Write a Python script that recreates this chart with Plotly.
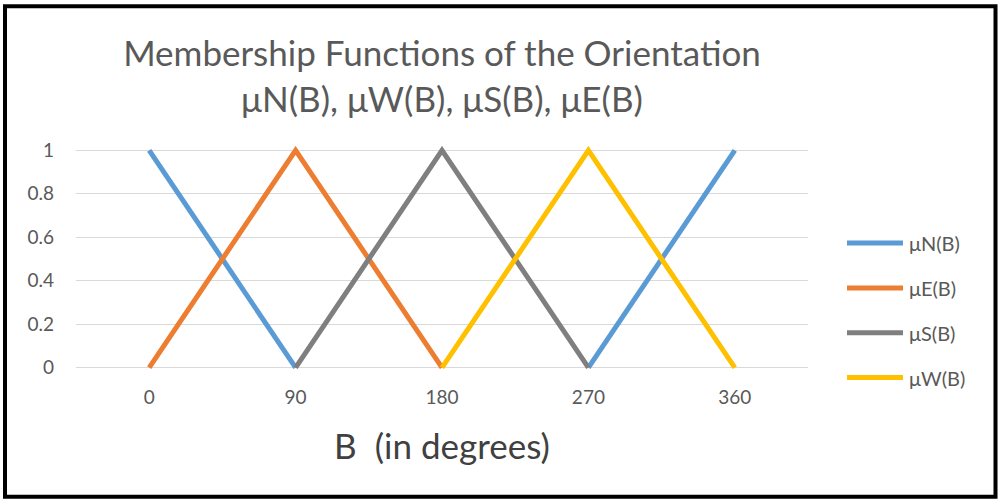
import plotly.graph_objects as go

# Orientation angle B (degrees) and membership degrees of each fuzzy set
angles = [0, 90, 180, 270, 360]
mu_n = [1, 0, None, 0, 1]
mu_e = [0, 1, 0, None, None]
mu_s = [None, 0, 1, 0, None]
mu_w = [None, None, 0, 1, 0]

series_names = ["μN(B)", "μE(B)", "μS(B)", "μW(B)"]
series_values = [mu_n, mu_e, mu_s, mu_w]
series_colors = ["#5B9BD5", "#ED7D31", "#7F7F7F", "#FFC000"]

y_ticks = [0, 0.2, 0.4, 0.6, 0.8, 1]
y_tick_text = ["0", "0.2", "0.4", "0.6", "0.8", "1"]

W, H = 1001, 500
FONT = "Lato, 'Open Sans', sans-serif"
TEXT_GREY = "#595959"

# plot area in pixels
left, right = 76, 808
y_one, y_zero = 150, 368
unit = y_zero - y_one
pad = 0.02
top = y_one - pad * unit
bottom = y_zero + pad * unit

fig = go.Figure()
for name, vals, col in zip(series_names, series_values, series_colors):
    fig.add_trace(go.Scatter(
        x=angles, y=vals, name=name, mode="lines",
        line=dict(color=col, width=5), connectgaps=False,
        showlegend=False, hoverinfo="x+y+name",
    ))


def px_to_paper_x(px):
    return (px - left) / (right - left)


def px_to_paper_y(py):
    return (bottom - py) / (bottom - top)


shapes = []
annotations = []

# legend drawn at the right of the plot
leg_x0, leg_x1, leg_text_x = 847, 903, 907
leg_y0, leg_dy = 243, 45
for i, (name, col) in enumerate(zip(series_names, series_colors)):
    yy = px_to_paper_y(leg_y0 + i * leg_dy)
    shapes.append(dict(type="line", xref="paper", yref="paper",
                       x0=px_to_paper_x(leg_x0), x1=px_to_paper_x(leg_x1),
                       y0=yy, y1=yy, line=dict(color=col, width=5)))
    annotations.append(dict(text=name, xref="paper", yref="paper",
                            x=px_to_paper_x(leg_text_x), y=yy,
                            xanchor="left", yanchor="middle", showarrow=False,
                            font=dict(family=FONT, size=20, color=TEXT_GREY)))

# outer frame around the chart
shapes.append(dict(type="rect", xref="paper", yref="paper",
                   x0=px_to_paper_x(5), x1=px_to_paper_x(995.5),
                   y0=px_to_paper_y(497.5), y1=px_to_paper_y(5.5),
                   line=dict(color="#000000", width=4), layer="above"))

fig.update_layout(
    width=W, height=H,
    margin=dict(l=left, r=W - right, t=top, b=H - bottom, pad=0),
    paper_bgcolor="white", plot_bgcolor="white",
    title=dict(text="Membership Functions of the Orientation<br>μN(B), μW(B), μS(B), μE(B)",
               x=0.5, xref="paper", xanchor="center",
               y=1 - 66 / H, yref="container", yanchor="middle",
               font=dict(family=FONT, size=35, color=TEXT_GREY)),
    xaxis=dict(range=[-45, 405], tickvals=angles, ticktext=[str(a) for a in angles],
               showgrid=False, zeroline=False, showline=False, ticks="",
               ticklabelstandoff=12,
               tickfont=dict(family=FONT, size=19, color=TEXT_GREY),
               title=dict(text="B  (in degrees)", standoff=27,
                          font=dict(family=FONT, size=35, color="#404040"))),
    yaxis=dict(range=[-pad, 1 + pad], tickvals=y_ticks, ticktext=y_tick_text,
               showgrid=True, gridcolor="#D9D9D9", gridwidth=1.3,
               zeroline=False, showline=False, ticks="",
               ticklabelstandoff=21,
               tickfont=dict(family=FONT, size=19, color=TEXT_GREY)),
    shapes=shapes, annotations=annotations, showlegend=False,
)

fig.write_html("out.html")
